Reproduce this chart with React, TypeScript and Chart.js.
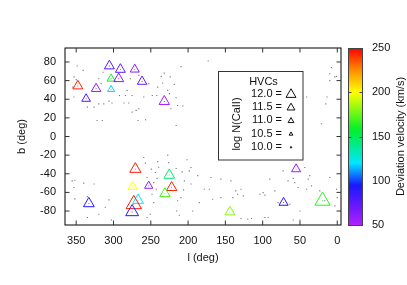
import React, { useEffect, useRef } from 'react';
import { Chart, registerables } from 'chart.js';

Chart.register(...registerables);

// ---------- data ----------
// HVC detections: galactic longitude, latitude, log N(CaII), deviation velocity (km/s)
const hvcL = [347.8, 336.7, 323.3, 305.5, 303.2, 303.2, 293.0, 290.8, 271.5, 261.7, 231.9,
  270.7, 274.2, 252.8, 267.0, 272.8, 275.0, 333.0, 225.2, 222.0, 231.0, 143.9, 55.2, 72.0, 19.8];
const hvcB = [54.2, 40.5, 51.3, 75.7, 62.0, 50.5, 62.0, 72.0, 72.0, 59.0, 37.6,
  -35.0, -53.8, -53.0, -68.4, -72.7, -81.0, -72.0, -41.5, -54.8, -61.3, -81.0, -35.0, -71.0, -69.0];
const hvcLogN = [12.0, 11.7, 11.9, 12.0, 11.6, 11.3, 12.0, 12.0, 11.8, 11.9, 12.1,
  12.3, 11.8, 11.6, 12.2, 13.3, 12.7, 12.2, 12.2, 12.1, 12.1, 12.0, 11.8, 11.8, 13.3];
const hvcVdev = [245, 80, 58, 78, 160, 118, 60, 75, 62, 72, 55,
  245, 200, 58, 120, 245, 88, 90, 145, 245, 170, 180, 58, 90, 165];

// background sight lines (grey dots)
const bgL = [348.7, 340.7, 353, 350, 319.7, 314, 316.6, 277.4, 266, 252.7, 240.7, 242, 248, 259.4, 275, 284, 285.8, 279.5, 292, 306, 302, 313, 319.7, 326, 335, 353, 354.5, 266, 269.7, 275, 267, 322, 315, 257, 281.8,
  173, 209.5, 236, 232, 224, 218.5, 234, 227.3, 225, 216, 214, 207, 223, 216,
  7.8, 10, 3.3, 1, 13.7, 15.4, 21, 41, 10,
  259.4, 257.3, 249.3, 244, 241.6, 255, 246, 242.6, 248.3, 246, 250.6, 255, 355.4, 351.8, 353, 339.8, 326, 351.8, 335, 306, 311, 319.7, 335, 302.8,
  227.3, 226, 201.5, 240.7, 239.4, 216, 208, 198.4, 196, 187, 169.3, 156, 142.6, 205, 196, 206, 178.3, 171.6, 136, 129, 133.6, 126, 140, 156, 167, 185, 209.5, 214, 215.3, 211.8, 193.8, 129, 120,
  114.9, 92.6, 59, 50, 43.5, 36.8, 39, 34.5, 41, 59, 57, 52.5, 66, 90.4, 99.3, 103.7, 97, 83.7, 79.3, 63.6, 50, 10, 16.7, 1, 0, 3.3, 23.4, 72.6, 97];
const bgB = [75.7, 71, 64, 61, 62, 69, 56.7, 62, 65.6, 56.7, 53, 44, 44, 42.4, 44, 44, 36, 36, 44, 38, 36, 35, 35, 31.6, 31.6, 42.4, 53, 29.8, 28, 26.2, 17.2, 17.2, 17.2, 18, 49.5,
  81, 75, 64.5, 68, 64, 56, 57.4, 49.5, 46, 41.6, 33.3, 32.7, 29.8, 11.8,
  73.9, 67.4, 64, 64.5, 42.4, 35, 13.7, 42.4, 60,
  -22.6, -28.6, -35, -38.7, -45, -44, -49.5, -56.6, -62, -71, -83.5, -87, -47.6, -47, -54.8, -50, -51, -67, -64.5, -68, -76, -83.5, -87, -89.6,
  -20, -28, -25, -27, -33, -34.4, -38, -36.9, -33.3, -42, -44, -45.8, -47.6, -47.6, -51, -57.3, -56.6, -56.6, -58.4, -56.6, -62, -63.8, -65.6, -65.6, -67.3, -71, -65.6, -69, -80, -84.5, -80, -88, -88.8,
  -88, -87, -89.6, -89.6, -33.3, -42, -45.8, -53, -56.6, -45, -49.5, -54.8, -47.6, -45.8, -60.2, -62, -63, -58.4, -71, -72.7, -80, -44, -69, -56.6, -65.6, -74.5, -58.4, -36.9, -87];

const xTicks = [350, 300, 250, 200, 150, 100, 50, 0];
const yTicks = [-80, -60, -40, -20, 0, 20, 40, 60, 80];
const cbTicks = [50, 100, 150, 200, 250];
const legendLogN = [12.0, 11.5, 11.0, 10.5, 10.0];

// ---------- styling helpers ----------
const FONT = "'Liberation Sans', Arial, sans-serif";
const stops: [number, number[]][] = [
  [50, [176, 32, 255]], [70, [110, 24, 255]], [95, [24, 24, 255]], [120, [0, 230, 255]],
  [158, [0, 240, 40]], [200, [255, 255, 0]], [225, [255, 140, 0]], [250, [255, 0, 0]],
];
function vColor(v: number) {
  if (v <= stops[0][0]) return `rgb(${stops[0][1].join(',')})`;
  for (let i = 1; i < stops.length; i++) {
    if (v <= stops[i][0]) {
      const [v0, c0] = stops[i - 1];
      const [v1, c1] = stops[i];
      const t = (v - v0) / (v1 - v0);
      const c = c0.map((k, j) => Math.round(k + (c1[j] - k) * t));
      return `rgb(${c.join(',')})`;
    }
  }
  return `rgb(${stops[stops.length - 1][1].join(',')})`;
}
function triRadius(n: number) {
  return Math.max(0.8, (n - 9.6) * 4.15) / Math.sqrt(3);
}
function drawTri(ctx: CanvasRenderingContext2D, x: number, y: number, r: number) {
  ctx.beginPath();
  ctx.moveTo(x, y - r);
  ctx.lineTo(x + r * 0.866, y + r * 0.5);
  ctx.lineTo(x - r * 0.866, y + r * 0.5);
  ctx.closePath();
  ctx.stroke();
}

const decor = {
  id: 'decor',
  afterDatasetsDraw(chart: any) {
    const { ctx, chartArea: a, scales } = chart;
    const sx = scales.x, sy = scales.y, cb = scales.cb;
    ctx.save();
    // frame
    ctx.strokeStyle = '#000';
    ctx.lineWidth = 1;
    ctx.strokeRect(a.left, a.top, a.right - a.left, a.bottom - a.top);
    // inward ticks (mirrored)
    ctx.strokeStyle = '#333';
    ctx.beginPath();
    for (const v of xTicks) {
      const p = sx.getPixelForValue(v);
      ctx.moveTo(p, a.bottom); ctx.lineTo(p, a.bottom - 4.5);
      ctx.moveTo(p, a.top); ctx.lineTo(p, a.top + 4.5);
    }
    for (const v of yTicks) {
      const p = sy.getPixelForValue(v);
      ctx.moveTo(a.left, p); ctx.lineTo(a.left + 4.5, p);
      ctx.moveTo(a.right, p); ctx.lineTo(a.right - 4.5, p);
    }
    ctx.stroke();

    // colour bar
    const cbL = 348.5, cbR = 362.5;
    const yTop = cb.getPixelForValue(250), yBot = cb.getPixelForValue(50);
    const g = ctx.createLinearGradient(0, yBot, 0, yTop);
    for (let v = 50; v <= 250; v += 5) g.addColorStop((v - 50) / 200, vColor(v));
    ctx.fillStyle = g;
    ctx.fillRect(cbL, yTop, cbR - cbL, yBot - yTop);
    ctx.strokeStyle = '#444';
    ctx.strokeRect(cbL, yTop + 0.5, cbR - cbL, yBot - yTop);
    ctx.beginPath();
    for (const v of cbTicks.slice(1, -1)) {
      const p = Math.round(cb.getPixelForValue(v)) + 0.5;
      ctx.moveTo(cbL, p); ctx.lineTo(cbL + 3, p);
      ctx.moveTo(cbR, p); ctx.lineTo(cbR - 3, p);
    }
    ctx.stroke();
    ctx.fillStyle = '#111';
    ctx.font = `11px ${FONT}`;
    ctx.textAlign = 'center';
    ctx.textBaseline = 'middle';
    ctx.save();
    ctx.translate(400.5, (yTop + yBot) / 2);
    ctx.rotate(-Math.PI / 2);
    ctx.fillText('Deviation velocity (km/s)', 0, 0);
    ctx.restore();

    // legend box
    ctx.fillStyle = '#fff';
    ctx.fillRect(218.5, 71.5, 84.5, 88.5);
    ctx.strokeStyle = '#333';
    ctx.strokeRect(218.5, 71.5, 84.5, 88.5);
    ctx.fillStyle = '#111';
    ctx.textAlign = 'center';
    ctx.fillText('HVCs', 263.5, 81.5);
    ctx.save();
    ctx.translate(236.5, 124);
    ctx.rotate(-Math.PI / 2);
    ctx.fillText('log N(CaII)', 0, 0);
    ctx.restore();
    ctx.textAlign = 'right';
    ctx.strokeStyle = '#111';
    legendLogN.forEach((n, i) => {
      const yy = 94 + i * 13.2;
      ctx.fillText(`${n.toFixed(1)} =`, 282, yy);
      drawTri(ctx, 291, yy + 0.5, triRadius(n));
    });
    ctx.restore();
  },
};

export default function App() {
  const ref = useRef<HTMLCanvasElement>(null);
  useEffect(() => {
    document.body.style.margin = '0';
    Chart.defaults.font.family = FONT;
    Chart.defaults.font.size = 11;
    Chart.defaults.color = '#111';
    const colors = hvcVdev.map(vColor);
    const chart = new Chart(ref.current!, {
      type: 'scatter',
      data: {
        datasets: [
          {
            label: 'sight lines',
            data: bgL.map((l, i) => ({ x: l, y: bgB[i] })),
            pointStyle: 'rect',
            pointRadius: 0.8,
            backgroundColor: '#777',
            borderWidth: 0,
            yAxisID: 'y',
          },
          {
            label: 'HVCs',
            data: hvcL.map((l, i) => ({ x: l, y: hvcB[i] })),
            pointStyle: 'triangle',
            pointRadius: hvcLogN.map(triRadius),
            borderColor: colors,
            backgroundColor: 'rgba(0,0,0,0)',
            borderWidth: 1,
            yAxisID: 'y',
          },
          {
            label: 'HVC centres',
            data: hvcL.map((l, i) => ({ x: l, y: hvcB[i] })),
            pointStyle: 'rect',
            pointRadius: 0.6,
            backgroundColor: colors,
            borderWidth: 0,
            yAxisID: 'y',
          },
        ],
      },
      options: {
        responsive: false,
        animation: false,
        events: [],
        layout: { padding: { top: 48, left: 0, right: 0, bottom: 0 } },
        plugins: { legend: { display: false }, tooltip: { enabled: false } },
        scales: {
          x: {
            type: 'linear',
            position: 'bottom',
            reverse: true,
            min: -5,
            max: 365,
            afterBuildTicks: (s: any) => { s.ticks = xTicks.map((v) => ({ value: v })); },
            afterFit: (s: any) => { s.height = 60; },
            grid: { display: false, drawTicks: false },
            border: { display: false },
            ticks: { padding: 9, maxRotation: 0, autoSkip: false, color: '#111' },
            title: { display: true, text: 'l (deg)', padding: { top: 0, bottom: 20 }, color: '#111' },
          },
          y: {
            type: 'linear',
            position: 'left',
            min: -95,
            max: 95,
            afterBuildTicks: (s: any) => { s.ticks = yTicks.map((v) => ({ value: v })); },
            afterFit: (s: any) => { s.width = 65; },
            grid: { display: false, drawTicks: false },
            border: { display: false },
            ticks: { padding: 9, autoSkip: false, color: '#111' },
            title: { display: true, text: 'b (deg)', padding: { top: 15, bottom: 0 }, color: '#111' },
          },
          cb: {
            type: 'linear',
            position: 'right',
            min: 50,
            max: 250,
            afterBuildTicks: (s: any) => { s.ticks = cbTicks.map((v) => ({ value: v })); },
            afterFit: (s: any) => { s.width = 66; },
            grid: { display: false, drawTicks: false },
            border: { display: false },
            ticks: { padding: 31, autoSkip: false, color: '#111' },
          },
        },
      },
      plugins: [decor],
    });
    return () => chart.destroy();
  }, []);
  return (
    <div style={{ width: 407, height: 285 }}>
      <canvas ref={ref} width={407} height={285} style={{ display: 'block' }} />
    </div>
  );
}
